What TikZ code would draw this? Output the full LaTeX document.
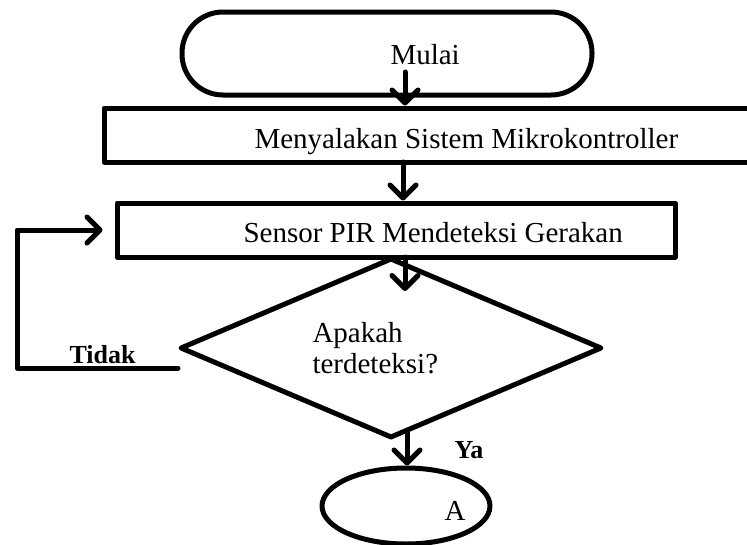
\documentclass[tikz,border=0pt]{standalone}
\usepackage{fontspec}
\setmainfont{Liberation Serif}
\usetikzlibrary{arrows.meta,shapes.geometric}
\begin{document}
\begin{tikzpicture}[x=1pt,y=-1pt,
  line width=5pt, line join=round,
  box/.style={draw, line width=5pt, inner sep=0pt, minimum width=#1, minimum height=54pt},
  txt/.style={font=\fontsize{29}{32}\selectfont, inner sep=0pt},
  btxt/.style={font=\fontsize{26}{30}\selectfont\bfseries, inner sep=0pt},
  arr/.style={-{Straight Barb[length=13pt,width=26pt,line cap=round,line join=round]}, line cap=round}]
\clip (0,0) rectangle (747,544);
\fill[white] (0,0) rectangle (747,544);
% start terminator
\node[draw, rounded corners=41pt, minimum width=410pt, minimum height=83pt, inner sep=0pt] (start) at (387,53.5) {};
\node[txt, anchor=base west] (startT) at (388,64) {Mulai};
% process 1
\node[box=652pt] (p1) at (430,135) {};
\node[txt, anchor=base west] (p1T) at (252,148) {Menyalakan Sistem Mikrokontroller};
% process 2
\node[box=558pt] (p2) at (396,230) {};
\node[txt, anchor=base west] (p2T) at (241,242) {Sensor PIR Mendeteksi Gerakan};
% decision
\node[draw, diamond, aspect=2.344, minimum width=422pt, minimum height=180pt, inner sep=0pt] (dec) at (391,348) {};
\node[txt, anchor=base west, align=left] (decT1) at (310,342) {Apakah};
\node[txt, anchor=base west, align=left] (decT2) at (310,373) {terdeteksi?};
% connector A
\node[draw, ellipse, minimum width=168pt, minimum height=76pt, inner sep=0pt] (A) at (406,506) {};
\node[txt, anchor=base west] (AT) at (442,520) {A};
% labels
\node[btxt, anchor=base west] (ya) at (452,458) {Ya};
\node[btxt, anchor=base west] (tidak) at (67,363) {Tidak};
% arrows
\coordinate (a1s) at (405,72);
\draw[arr] (a1s) -- (a1s |- p1.north);
\coordinate (a2s) at (403,162);
\draw[arr] (a2s) -- (a2s |- p2.north);
\coordinate (a3s) at (405,257);
\draw[arr] (a3s) -- (405,291);
\coordinate (a4s) at (407,432);
\draw[arr] (a4s) -- (a4s |- A.north);
% loop back
\coordinate (loopS) at (178,368);
\coordinate (loopC) at (17,368);
\draw[arr] (loopS) -- (loopC) |- ([xshift=-12pt]p2.west);
\end{tikzpicture}
\end{document}
